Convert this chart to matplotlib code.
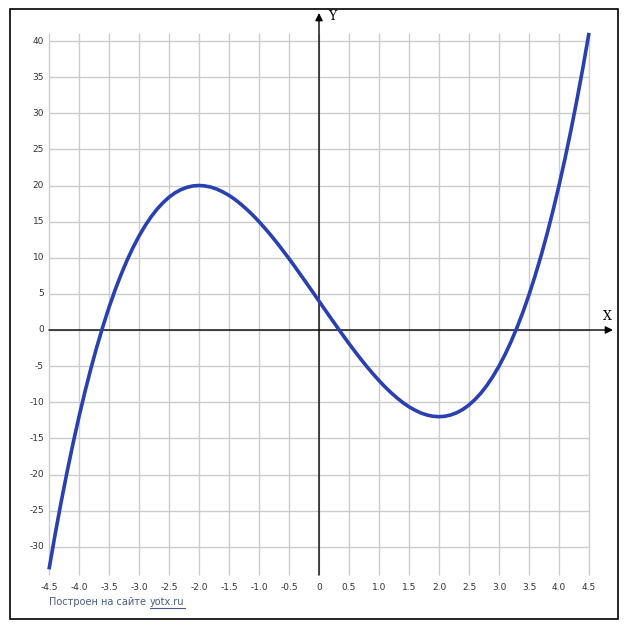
import matplotlib.pyplot as plt
from matplotlib.patches import Rectangle

# values every 0.1
x = [-4.5, -4.4, -4.3, -4.2, -4.1, -4.0, -3.9, -3.8, -3.7, -3.6,
     -3.5, -3.4, -3.3, -3.2, -3.1, -3.0, -2.9, -2.8, -2.7, -2.6,
     -2.5, -2.4, -2.3, -2.2, -2.1, -2.0, -1.9, -1.8, -1.7, -1.6,
     -1.5, -1.4, -1.3, -1.2, -1.1, -1.0, -0.9, -0.8, -0.7, -0.6,
     -0.5, -0.4, -0.3, -0.2, -0.1, 0.0, 0.1, 0.2, 0.3, 0.4,
     0.5, 0.6, 0.7, 0.8, 0.9, 1.0, 1.1, 1.2, 1.3, 1.4,
     1.5, 1.6, 1.7, 1.8, 1.9, 2.0, 2.1, 2.2, 2.3, 2.4,
     2.5, 2.6, 2.7, 2.8, 2.9, 3.0, 3.1, 3.2, 3.3, 3.4,
     3.5, 3.6, 3.7, 3.8, 3.9, 4.0, 4.1, 4.2, 4.3, 4.4, 4.5]
y = [-33.13, -28.38, -23.91, -19.69, -15.72, -12.0, -8.52, -5.27, -2.25, 0.54,
     3.13, 5.50, 7.66, 9.63, 11.41, 13.0, 14.41, 15.65, 16.72, 17.62,
     18.38, 18.98, 19.43, 19.75, 19.94, 20.0, 19.94, 19.77, 19.49, 19.10,
     18.63, 18.06, 17.40, 16.67, 15.87, 15.0, 14.07, 13.09, 12.06, 10.98,
     9.88, 8.74, 7.57, 6.39, 5.20, 4.0, 2.80, 1.61, 0.43, -0.74,
     -1.88, -2.98, -4.06, -5.09, -6.07, -7.0, -7.87, -8.67, -9.40, -10.06,
     -10.63, -11.10, -11.49, -11.77, -11.94, -12.0, -11.94, -11.75, -11.43, -10.98,
     -10.38, -9.62, -8.72, -7.65, -6.41, -5.0, -3.41, -1.63, 0.34, 2.50,
     4.88, 7.46, 10.25, 13.27, 16.52, 20.0, 23.72, 27.69, 31.91, 36.38, 41.13]

xticks = [-4.5, -4.0, -3.5, -3.0, -2.5, -2.0, -1.5, -1.0, -0.5, 0,
          0.5, 1.0, 1.5, 2.0, 2.5, 3.0, 3.5, 4.0, 4.5]
xticklabels = ['-4.5', '-4.0', '-3.5', '-3.0', '-2.5', '-2.0', '-1.5', '-1.0', '-0.5', '0',
               '0.5', '1.0', '1.5', '2.0', '2.5', '3.0', '3.5', '4.0', '4.5']
yticks = [-30, -25, -20, -15, -10, -5, 0, 5, 10, 15, 20, 25, 30, 35, 40]

W, H = 627, 630
fig = plt.figure(figsize=(W / 100, H / 100), dpi=100)
ax = fig.add_axes([0, 0, 1, 1])
ax.axis('off')

# pixel mapping: x=-4.5 at 49px, 60 px per unit; y=0 at 330px, 7.225 px per unit
sx, sy = 60.0, 7.225
ax.set_xlim(-4.5 - 49 / sx, -4.5 + (W - 49) / sx)
ax.set_ylim(-(H - 330) / sy, 330 / sy)

gtop = (330 - 33) / sy
gbot = (330 - 575) / sy

# grid
ax.vlines(xticks, gbot, gtop, color='#cccccc', lw=1, zorder=1)
ax.hlines(yticks, -4.5, 4.5, color='#cccccc', lw=1, zorder=1)

# axes with arrows
ax.annotate('', xy=(4.5 + 24 / sx, 0), xytext=(-4.5, 0),
            arrowprops=dict(arrowstyle='-|>', mutation_scale=11, color='black',
                            lw=1, shrinkA=0, shrinkB=0), zorder=2)
ax.annotate('', xy=(0, (330 - 13) / sy), xytext=(0, gbot),
            arrowprops=dict(arrowstyle='-|>', mutation_scale=11, color='black',
                            lw=1, shrinkA=0, shrinkB=0), zorder=2)
ax.text(4.5 + 18 / sx, 14 / sy, 'X', fontsize=9, family='DejaVu Serif',
        ha='center', va='center')
ax.text(13 / sx, (330 - 16) / sy, 'Y', fontsize=9, family='DejaVu Serif',
        ha='center', va='center')

# curve
ax.plot(x, y, color='#2a40b0', lw=2.6, solid_joinstyle='round',
        solid_capstyle='butt', zorder=3)

# tick labels
for v, s in zip(xticks, xticklabels):
    ax.text(v, (330 - 587) / sy, s, fontsize=6.5, color='#333333',
            ha='center', va='center')
for v in yticks:
    ax.text(-4.5 - 5 / sx, v, str(v), fontsize=6.5, color='#333333',
            ha='right', va='center')

# credit line
cy = (330 - 602) / sy
t1 = ax.text(-4.5, cy, 'Построен на сайте', fontsize=7, color='#4a5a8c',
             ha='left', va='center')
fig.canvas.draw()
bb = t1.get_window_extent()
x2 = ax.transData.inverted().transform((bb.x1 + 4, 0))[0]
t2 = ax.text(x2, cy, 'yotx.ru', fontsize=7, color='#4a5a8c',
             ha='left', va='center')
fig.canvas.draw()
bb2 = t2.get_window_extent()
x3 = ax.transData.inverted().transform((bb2.x1, 0))[0]
ax.plot([x2, x3], [(330 - 608) / sy] * 2, color='#4a5a8c', lw=0.8)

# outer frame
fig.patches.append(Rectangle((9.5 / W, 1 - 619 / H), (618 - 9.5) / W, (619 - 9) / H,
                             transform=fig.transFigure, fill=False,
                             edgecolor='black', lw=1.2))

fig.savefig('out.png', dpi=100)
